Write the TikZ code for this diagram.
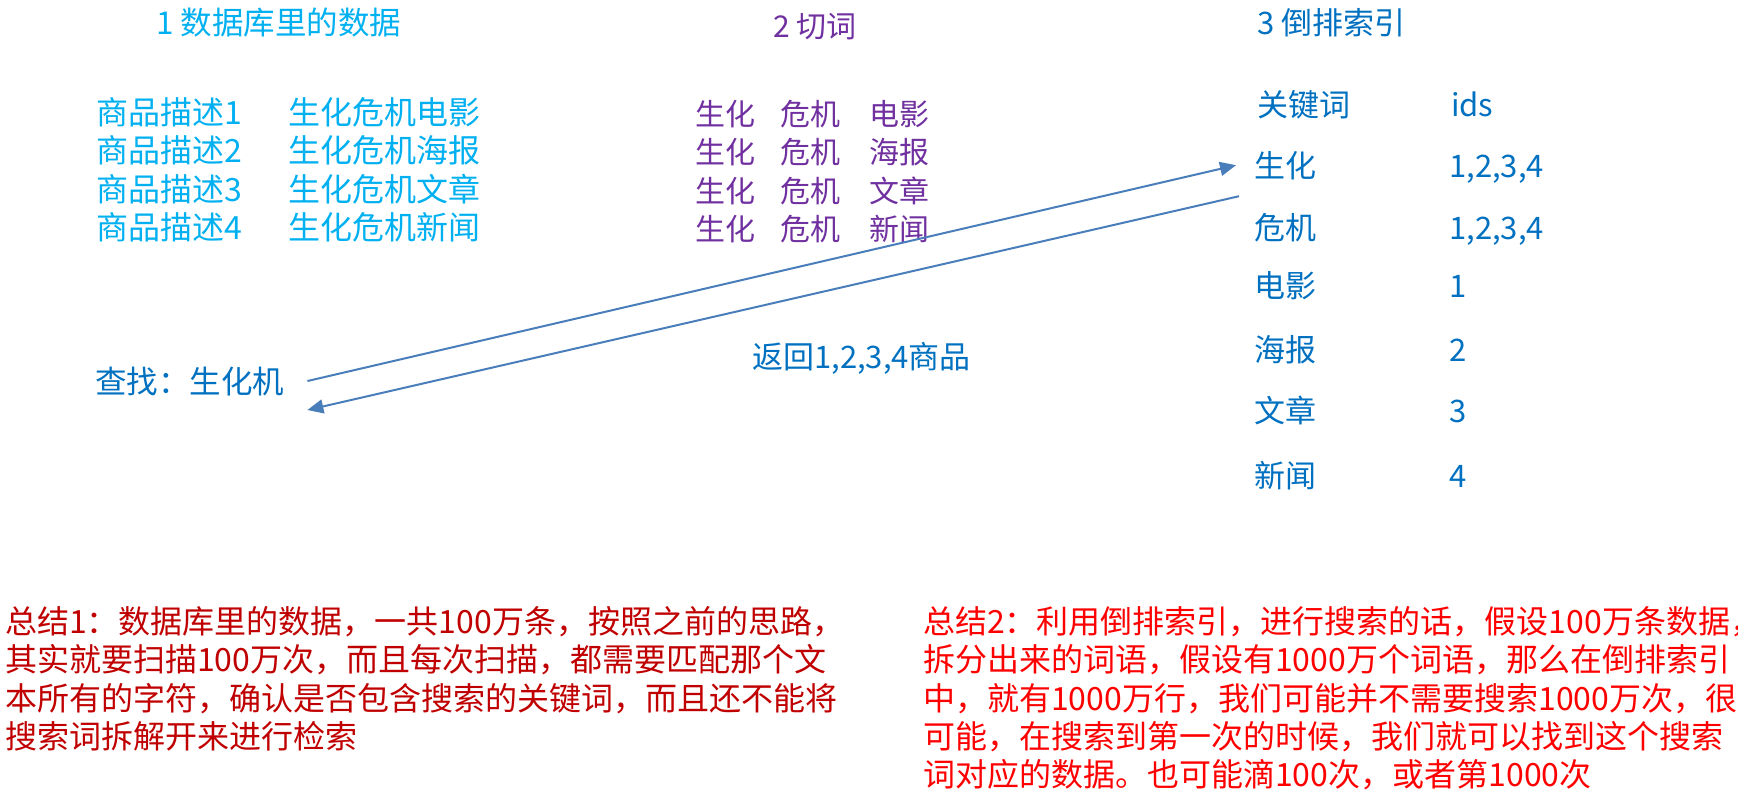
\documentclass[tikz,border=0pt]{standalone}
\usepackage{fontspec}
\setmainfont{Noto Sans CJK SC}
\usepackage{tikz}
\usetikzlibrary{positioning,arrows.meta}

\definecolor{dbcyan}{HTML}{00B0F0}
\definecolor{cutpurple}{HTML}{7030A0}
\definecolor{idxblue}{HTML}{0070C0}
\definecolor{linkblue}{HTML}{4A7EBB}
\definecolor{noteone}{HTML}{C00000}
\definecolor{notetwo}{HTML}{FF0000}

\begin{document}
\begin{tikzpicture}[x=1pt,y=-1pt,
  every node/.style={inner sep=0pt,anchor=base west},
  desc/.style={text=dbcyan,font=\fontsize{32}{38}\selectfont,anchor=base west},
  cut/.style={text=cutpurple,font=\fontsize{30}{36}\selectfont,anchor=base west},
  idx/.style={text=idxblue,font=\fontsize{31}{37}\selectfont,anchor=base west},
  note/.style={align=left,anchor=north west,font=\fontsize{32}{38.4}\selectfont},
  link/.style={draw=linkblue,line width=2pt,-{Triangle[length=16pt,width=14pt]}}]
  \useasboundingbox (0,0) rectangle (1738,798);

  % 1 database rows
  \node[desc,font=\fontsize{31.5}{38}\selectfont] (t1) at (156,34) {1 数据库里的数据};
  \node[desc] (d1) at (96,124) {商品描述1};
  \node (d2) [below=38.5pt of d1.base west,desc] {商品描述2};
  \node (d3) [below=38.5pt of d2.base west,desc] {商品描述3};
  \node (d4) [below=38.5pt of d3.base west,desc] {商品描述4};
  \node[desc] (e1) at (288,124) {生化危机电影};
  \node[desc] (e2) at (e1.base west |- d2.base) {生化危机海报};
  \node[desc] (e3) at (e1.base west |- d3.base) {生化危机文章};
  \node[desc] (e4) at (e1.base west |- d4.base) {生化危机新闻};

  % 2 word cutting
  \node[cut] (t2) at (773,37) {2 切词};
  \node[cut] (w1) at (695,125) {生化};
  \node (w2) [below=38.5pt of w1.base west,cut] {生化};
  \node (w3) [below=38.5pt of w2.base west,cut] {生化};
  \node (w4) [below=38.5pt of w3.base west,cut] {生化};
  \node[cut] (x1) at (w1.base west -| 780,0) {危机};
  \node[cut] (x2) at (x1.base west |- w2.base) {危机};
  \node[cut] (x3) at (x1.base west |- w3.base) {危机};
  \node[cut] (x4) at (x1.base west |- w4.base) {危机};
  \node[cut] (y1) at (w1.base west -| 869,0) {电影};
  \node[cut] (y2) at (y1.base west |- w2.base) {海报};
  \node[cut] (y3) at (y1.base west |- w3.base) {文章};
  \node[cut] (y4) at (y1.base west |- w4.base) {新闻};

  % 3 inverted index
  \node[idx] (t3) at (1257,34) {3 倒排索引};
  \node[idx] (h1) at (1257,116) {关键词};
  \node[idx] (h2) at (1451,116) {ids};
  \node[idx] (k1) at (1254,177) {生化};
  \node (k2) [below=62pt of k1.base west,idx] {危机};
  \node (k3) [below=58pt of k2.base west,idx] {电影};
  \node (k4) [below=64pt of k3.base west,idx] {海报};
  \node (k5) [below=61pt of k4.base west,idx] {文章};
  \node (k6) [below=65pt of k5.base west,idx] {新闻};
  \node[idx] (v1) at ([xshift=-2pt]h2.base west |- k1.base) {1,2,3,4};
  \node[idx] (v2) at (v1.base west |- k2.base) {1,2,3,4};
  \node[idx] (v3) at (v1.base west |- k3.base) {1};
  \node[idx] (v4) at (v1.base west |- k4.base) {2};
  \node[idx] (v5) at (v1.base west |- k5.base) {3};
  \node[idx] (v6) at (v1.base west |- k6.base) {4};

  % query and result
  \node[idx,font=\fontsize{31.5}{37}\selectfont] (q) at (95,393) {查找：生化机};
  \node[idx] (ret) at (752,368) {返回1,2,3,4商品};
  \coordinate (qo) at ([shift={(23pt,0pt)}]q.east);
  \coordinate (qi) at ([shift={(23pt,-29pt)}]q.east);
  \coordinate (ko) at ([shift={(-18pt,0pt)}]k1.west);
  \coordinate (ki) at ([shift={(-15pt,-31pt)}]k1.west);
  \draw[link] (qo) -- (ko);
  \draw[link] (ki) -- (qi);

  % summaries
  \node[note,text=noteone] (s1) at (5,606)
    {总结1：数据库里的数据，一共100万条，按照之前的思路，\\
     其实就要扫描100万次，而且每次扫描，都需要匹配那个文\\
     本所有的字符，确认是否包含搜索的关键词，而且还不能将\\
     搜索词拆解开来进行检索};
  \node[note,text=notetwo] (s2) at (923,606)
    {总结2：利用倒排索引，进行搜索的话，假设100万条数据，\\
     拆分出来的词语，假设有1000万个词语，那么在倒排索引\\
     中，就有1000万行，我们可能并不需要搜索1000万次，很\\
     可能，在搜索到第一次的时候，我们就可以找到这个搜索\\
     词对应的数据。也可能滴100次，或者第1000次};
\end{tikzpicture}
\end{document}
